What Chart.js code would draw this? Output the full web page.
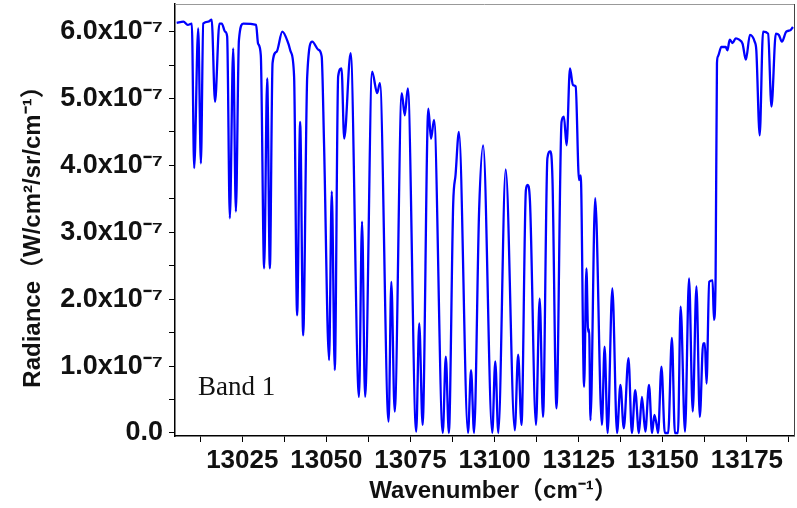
<!DOCTYPE html>
<html>
<head>
<meta charset="utf-8">
<script src="https://cdn.jsdelivr.net/npm/chart.js@4.4.0/dist/chart.umd.min.js"></script>
<style>
  html, body { margin: 0; padding: 0; background: #fff; }
  #wrap { width: 797px; height: 508px; position: relative; }
</style>
</head>
<body>
<div id="wrap"><canvas id="spectrumChart"></canvas></div>
<script>
// Band 1 spectrum
// wavenumber in cm^-1, radiance in units of 1e-7 W/cm2/sr/cm-1
const wavenumber = [
  13005.5, 13007.5, 13008.8, 13010.0, 13010.7, 13011.9, 13012.7, 13013.4, 13014.9, 13015.9,
  13016.9, 13018.2, 13018.9, 13019.9, 13020.5, 13021.3, 13022.3, 13023.1, 13024.0, 13025.3,
  13029.1, 13029.7, 13030.5, 13031.5, 13032.4, 13033.2, 13034.0, 13035.2, 13036.9, 13038.7,
  13039.4, 13040.4, 13041.3, 13042.2, 13043.1, 13044.3, 13045.8, 13047.6, 13048.6, 13049.3,
  13050.8, 13051.6, 13052.5, 13053.5, 13054.5, 13055.3, 13057.2, 13059.7, 13060.6, 13061.5,
  13063.6, 13065.1, 13065.9, 13068.5, 13069.3, 13070.3, 13072.4, 13073.3, 13074.2, 13076.7,
  13077.6, 13078.6, 13080.3, 13081.1, 13082.0, 13084.6, 13085.5, 13086.4, 13087.7, 13088.4,
  13089.4, 13092.1, 13093.0, 13093.9, 13095.4, 13096.6, 13099.3, 13100.2, 13101.1, 13103.3,
  13106.0, 13107.0, 13108.0, 13109.3, 13109.8, 13110.5, 13112.3, 13113.4, 13114.4, 13115.7,
  13116.6, 13117.2, 13118.4, 13119.9, 13120.6, 13121.4, 13122.4, 13123.3, 13124.1, 13125.1,
  13125.6, 13126.6, 13127.3, 13127.8, 13128.1, 13128.5, 13129.9, 13131.9, 13132.7, 13133.6,
  13135.0, 13136.4, 13137.4, 13138.4, 13139.8, 13140.8, 13141.8, 13142.9, 13143.8, 13144.8,
  13145.9, 13146.8, 13147.5, 13148.1, 13148.6, 13149.6, 13150.6, 13151.6, 13152.7, 13153.6,
  13154.5, 13155.3, 13156.6, 13157.8, 13158.9, 13160.0, 13161.0, 13162.0, 13162.5, 13163.0,
  13163.8, 13164.8, 13165.2, 13165.7, 13166.1, 13166.4, 13167.4, 13168.7, 13169.2, 13169.9,
  13170.7, 13171.7, 13172.7, 13173.7, 13174.7, 13175.9, 13177.3, 13177.8, 13178.8, 13179.8,
  13181.3, 13182.3, 13183.6, 13184.5, 13185.4, 13186.7, 13187.9, 13188.7
];
const radiance = [
  6.13, 6.15, 6.10, 6.12, 3.96, 6.05, 4.03, 6.12, 6.15, 6.18,
  4.95, 6.12, 6.12, 6.00, 5.93, 3.21, 5.75, 3.31, 5.87, 6.12,
  6.10, 5.82, 5.65, 2.46, 5.30, 2.46, 5.53, 5.70, 6.00, 5.82,
  5.70, 5.33, 1.76, 4.65, 1.46, 5.33, 5.85, 5.73, 5.63, 4.33,
  1.09, 3.61, 0.94, 5.33, 5.45, 4.40, 5.68, 0.54, 3.16, 0.54,
  5.40, 5.08, 5.23, 0.17, 2.26, 0.32, 5.08, 4.75, 5.15, 0.02,
  1.64, 0.12, 4.85, 4.40, 4.68, 0.00, 1.14, 0.00, 3.43, 3.86,
  4.50, 0.00, 0.94, 0.00, 3.33, 4.30, 0.00, 1.07, 0.00, 3.94,
  0.04, 1.17, 0.12, 3.63, 3.71, 3.48, 0.12, 2.01, 0.24, 4.11,
  4.21, 3.80, 0.37, 4.65, 4.73, 4.30, 5.45, 5.20, 5.18, 3.78,
  3.85, 0.69, 2.46, 1.51, 1.55, 0.19, 3.51, 0.12, 1.29, 0.00,
  2.16, 0.00, 0.72, 0.07, 1.12, 0.00, 0.64, 0.00, 0.54, 0.02,
  0.72, 0.00, 0.27, 0.14, 0.00, 0.99, 0.00, 0.00, 1.42, 0.00,
  0.00, 1.89, 0.02, 2.31, 0.32, 2.19, 0.24, 1.34, 1.34, 0.74,
  2.26, 2.28, 1.69, 2.34, 5.53, 5.63, 5.77, 5.77, 5.72, 5.88,
  5.83, 5.90, 5.88, 5.82, 5.58, 5.95, 5.85, 5.72, 4.45, 6.00,
  5.97, 4.88, 5.97, 5.95, 5.85, 6.00, 6.02, 6.07
];

// axis ticks (minor ticks have no label)
const xTicks = [13012.5, 13025, 13037.5, 13050, 13062.5, 13075, 13087.5, 13100,
                13112.5, 13125, 13137.5, 13150, 13162.5, 13175, 13187.5];
const xLabelled = [13025, 13050, 13075, 13100, 13125, 13150, 13175];
const yTicks = [0, 0.5, 1, 1.5, 2, 2.5, 3, 3.5, 4, 4.5, 5, 5.5, 6];
const yLabelled = [0, 1, 2, 3, 4, 5, 6];

const xTitle = 'Wavenumber（cm⁻¹）';
const yTitle = 'Radiance（W/cm²/sr/cm⁻¹）';
const bandText = 'Band 1';

const SANS = '"Liberation Sans", Arial, "Noto Sans CJK SC", sans-serif';

// titles, band label and the top/right frame
const extrasPlugin = {
  id: 'extras',
  afterDraw(chart) {
    const c = chart.ctx;
    const a = chart.chartArea;
    c.save();
    c.strokeStyle = '#999';
    c.lineWidth = 1;
    c.beginPath();
    c.moveTo(a.left, a.top + 0.5);
    c.lineTo(a.right, a.top + 0.5);
    c.stroke();
    c.strokeStyle = '#444';
    c.beginPath();
    c.moveTo(a.right + 0.5, a.top);
    c.lineTo(a.right + 0.5, a.bottom);
    c.stroke();

    c.fillStyle = '#111';
    c.textAlign = 'center';
    c.textBaseline = 'middle';
    c.font = 'bold 24px ' + SANS;
    c.fillText(xTitle, (a.left + a.right) / 2 + 9, a.bottom + 55);

    c.save();
    c.translate(33, (a.top + a.bottom) / 2 + 11);
    c.rotate(-Math.PI / 2);
    c.font = 'bold 24px ' + SANS;
    c.fillText(yTitle, 0, 0);
    c.restore();

    c.textAlign = 'left';
    c.textBaseline = 'alphabetic';
    c.font = '27px "Liberation Serif", "Times New Roman", serif';
    c.fillText(bandText, a.left + 23, a.bottom - 41);
    c.restore();
  }
};

const ctx = document.getElementById('spectrumChart').getContext('2d');
new Chart(ctx, {
  type: 'line',
  data: {
    datasets: [{
      data: wavenumber.map((w, i) => ({ x: w, y: radiance[i] })),
      borderColor: '#0000ff',
      borderWidth: 2.3,
      pointRadius: 0,
      cubicInterpolationMode: 'monotone',
      fill: false
    }]
  },
  options: {
    responsive: true,
    maintainAspectRatio: false,
    animation: false,
    layout: { padding: { top: 4, right: 3, left: 0, bottom: 0 } },
    plugins: { legend: { display: false }, tooltip: { enabled: false } },
    scales: {
      x: {
        type: 'linear',
        min: 13005,
        max: 13189,
        afterFit(s) { s.height = 72; s.paddingLeft = 0; s.paddingRight = 0; },
        afterBuildTicks(s) { s.ticks = xTicks.map(v => ({ value: v })); },
        grid: { drawOnChartArea: false, tickLength: 6, tickColor: '#000' },
        border: { color: '#000', width: 1.5 },
        ticks: {
          autoSkip: false,
          maxRotation: 0,
          padding: 3,
          color: '#111',
          font: { family: SANS, size: 26, weight: 'bold' },
          callback: v => xLabelled.includes(v) ? String(v) : ''
        }
      },
      y: {
        min: -0.045,
        max: 6.413,
        afterFit(s) { s.width = 175; s.paddingTop = 0; s.paddingBottom = 0; },
        afterBuildTicks(s) { s.ticks = yTicks.map(v => ({ value: v })); },
        grid: { drawOnChartArea: false, tickLength: 6, tickColor: '#000' },
        border: { color: '#000', width: 1.5 },
        ticks: {
          autoSkip: false,
          padding: 6,
          color: '#111',
          font: { family: SANS, size: 27, weight: 'bold' },
          callback: v => {
            if (!yLabelled.includes(v)) return '';
            return v === 0 ? '0.0' : v.toFixed(1) + 'x10⁻⁷';
          }
        }
      }
    }
  },
  plugins: [extrasPlugin]
});
</script>
</body>
</html>
